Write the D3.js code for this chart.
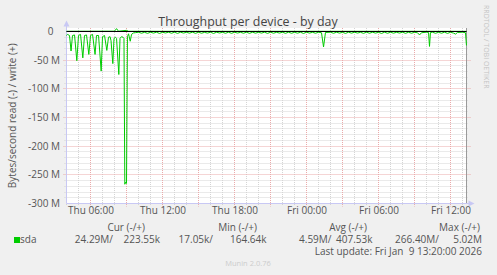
<!DOCTYPE html>
<html>
<head>
<meta charset="utf-8">
<script src="https://cdn.jsdelivr.net/npm/d3@7"></script>
<style>
  body { margin: 0; background: #f0f0f0; }
  text { font-family: "Open Sans", sans-serif; fill: #555; }
</style>
</head>
<body>
<div id="chart"></div>
<script>
// hours counted from Thu 00:00, values in MB/s (read is drawn below zero)
var readHours = [
  4.00, 4.08, 4.25, 4.38, 4.50, 4.67, 4.86, 5.00, 5.17, 5.36, 5.50, 5.67, 5.86,
  6.00, 6.17, 6.38, 6.50, 6.67, 6.89, 7.00, 7.17, 7.36, 7.50, 7.63, 7.71, 7.86, 7.96,
  8.08, 8.17, 8.36, 8.46, 8.58, 8.71, 8.79, 8.86, 8.92, 9.00, 9.08, 9.17, 9.31, 9.42, 9.58,
  9.75,
  10.00, 10.25, 10.50, 10.75, 11.00, 11.25, 11.50, 11.75, 12.00, 12.25, 12.50, 12.75,
  13.00, 13.25, 13.50, 13.75, 14.00, 14.25, 14.50, 14.75, 15.00, 15.25, 15.50, 15.75,
  16.00, 16.25, 16.50, 16.75, 17.00, 17.25, 17.50, 17.75, 18.00, 18.25, 18.50, 18.75,
  19.00, 19.25, 19.50, 19.75, 20.00, 20.25, 20.50, 20.75, 21.00, 21.25, 21.50, 21.75,
  22.00, 22.25, 22.50, 22.75, 23.00, 23.25, 23.50, 23.75, 24.00, 24.25, 24.50, 24.75,
  25.00, 25.25, 25.42, 25.58, 26.00, 26.25, 26.50, 26.75, 27.00, 27.25, 27.50, 27.75,
  28.00, 28.25, 28.50, 28.75, 29.00, 29.25, 29.50, 29.75, 30.00, 30.25, 30.50, 30.75,
  31.00, 31.25, 31.50, 31.75, 32.00, 32.25, 32.50, 32.75, 33.00, 33.25, 33.42, 33.58,
  34.00, 34.17, 34.25, 34.33, 34.50, 34.75, 35.00, 35.25, 35.50, 35.75,
  36.00, 36.25, 36.42, 36.58, 37.00, 37.25, 37.33
];
var readValues = [
  7, 5, 7, 34, 7, 6, 51, 7, 5, 46, 7, 6, 40,
  7, 5, 40, 7, 7, 69, 9, 7, 33, 10, 9, 16, 56, 12,
  10, 12, 75, 12, 9, 10, 12, 266.4, 263, 265, 9, 4, 17, 5, 2.5,
  2.0,
  1.3, 3.0, 1.4, 3.2, 1.3, 2.8, 1.2, 3.4, 1.4, 2.6, 1.2, 3.1,
  1.2, 3.3, 1.3, 2.7, 1.4, 2.9, 1.2, 3.2, 1.3, 3.0, 1.5, 2.8,
  1.2, 3.4, 1.3, 2.6, 1.4, 3.1, 1.2, 3.2, 1.3, 2.7, 1.4, 3.0,
  1.2, 3.2, 1.3, 2.9, 1.4, 2.8, 1.2, 3.3, 1.2, 3.0, 1.4, 2.7,
  1.3, 3.2, 1.2, 3.1, 1.4, 2.9, 1.3, 3.4, 1.2, 2.8, 1.4, 3.0,
  1.3, 2.2, 27.0, 1.7, 1.2, 3.1, 1.3, 2.8, 1.4, 3.3, 1.2, 2.9,
  1.3, 2.7, 1.4, 3.2, 1.2, 3.0, 1.3, 2.8, 1.4, 3.4, 1.2, 3.1,
  1.3, 2.9, 1.4, 2.7, 1.2, 3.2, 1.3, 3.0, 1.4, 2.2, 6.0, 2.2,
  1.2, 1.7, 26.0, 1.7, 1.3, 3.1, 1.4, 3.0, 1.2, 3.3,
  1.3, 2.8, 4.5, 1.7, 1.2, 2.2, 24.29
];
var writeHours = [4.00, 6.00, 8.00, 8.17, 8.33, 9.00, 9.17, 12.00, 18.00, 24.00, 30.00, 36.00, 37.33];
var writeValues = [0.4, 0.5, 0.6, 5.02, 0.5, 2.0, 0.4, 0.3, 0.3, 0.3, 0.3, 0.3, 0.22];

var yTicks = [0, -50, -100, -150, -200, -250, -300];
var legendHeads = ["Cur (-/+)", "Min (-/+)", "Avg (-/+)", "Max (-/+)"];
var legendRead = ["24.29M/", "17.05k/", "4.59M/", "266.40M/"];
var legendWrite = ["223.55k", "164.64k", "407.53k", "5.02M"];

var width = 497, height = 275;
var plot = {left: 66.5, right: 466.5, top: 28, bottom: 203.5};
var base = new Date(2026, 0, 8);
var green = "#00cc00";

function hourDate(h) { return new Date(base.getTime() + h * 3600e3); }

var x = d3.scaleTime()
  .domain([hourDate(4), hourDate(37 + 1 / 3)])
  .range([plot.left, plot.right]);
var y = d3.scaleLinear()
  .domain([-300e6, 0])
  .range([plot.bottom, 31.5]);

function px(v) { return Math.round(v - 0.5) + 0.5; }

var svg = d3.select("#chart").append("svg")
  .attr("width", width)
  .attr("height", height);

svg.append("rect")
  .attr("width", width).attr("height", height)
  .attr("fill", "#f0f0f0");

svg.append("rect")
  .attr("x", plot.left).attr("y", plot.top)
  .attr("width", plot.right - plot.left)
  .attr("height", plot.bottom - plot.top)
  .attr("fill", "#ffffff");

// grid: minor every hour / 10M, major every 3 hours / 50M
var grid = svg.append("g");
var minorY = d3.range(-300e6, 1, 10e6).filter(function(v) { return v % 50e6 !== 0; });
grid.selectAll("line.hminor").data(minorY).enter().append("line")
  .attr("x1", plot.left - 2).attr("x2", plot.right + 2)
  .attr("y1", function(d) { return px(y(d)); })
  .attr("y2", function(d) { return px(y(d)); })
  .attr("stroke", "#d4d4d4").attr("stroke-dasharray", "1,1");

var minorX = x.ticks(d3.timeHour.every(1)).filter(function(d) { return d.getHours() % 3 !== 0; });
grid.selectAll("line.vminor").data(minorX).enter().append("line")
  .attr("x1", function(d) { return px(x(d)); })
  .attr("x2", function(d) { return px(x(d)); })
  .attr("y1", plot.top).attr("y2", plot.bottom + 2)
  .attr("stroke", "#d4d4d4").attr("stroke-dasharray", "1,1");

grid.selectAll("line.hmajor").data(yTicks.slice(1, -1)).enter().append("line")
  .attr("x1", plot.left - 3).attr("x2", plot.right + 4)
  .attr("y1", function(d) { return px(y(d * 1e6)); })
  .attr("y2", function(d) { return px(y(d * 1e6)); })
  .attr("stroke", "#eaaaaa").attr("stroke-dasharray", "1,1");

grid.selectAll("line.vmajor").data(x.ticks(d3.timeHour.every(3))).enter().append("line")
  .attr("x1", function(d) { return px(x(d)); })
  .attr("x2", function(d) { return px(x(d)); })
  .attr("y1", plot.top).attr("y2", plot.bottom + 3)
  .attr("stroke", "#eaaaaa").attr("stroke-dasharray", "1,1");

// right frame
svg.append("line")
  .attr("x1", plot.right).attr("x2", plot.right)
  .attr("y1", plot.top).attr("y2", plot.bottom)
  .attr("stroke", "#9a9a9a");

// axes lines with arrows
var axisColor = "#c8c8f4";
svg.append("line")
  .attr("x1", plot.left).attr("x2", plot.left)
  .attr("y1", plot.bottom).attr("y2", 24)
  .attr("stroke", axisColor);
svg.append("path")
  .attr("d", "M63.5,26.5L69.5,26.5L66.5,20.5Z")
  .attr("fill", axisColor);
svg.append("line")
  .attr("x1", plot.left).attr("x2", 470)
  .attr("y1", plot.bottom).attr("y2", plot.bottom)
  .attr("stroke", axisColor);
svg.append("path")
  .attr("d", "M468.5,200.5L468.5,206.5L474.5,203.5Z")
  .attr("fill", axisColor);

// data lines
var line = d3.line()
  .x(function(d) { return x(hourDate(d[0])); })
  .y(function(d) { return y(d[1]); });

var writeData = writeHours.map(function(h, i) { return [h, writeValues[i] * 1e6]; });
var readData = readHours.map(function(h, i) { return [h, -readValues[i] * 1e6]; });

svg.append("path")
  .datum(writeData)
  .attr("d", line)
  .attr("fill", "none")
  .attr("stroke", green)
  .attr("stroke-width", 1);

svg.append("path")
  .datum(readData)
  .attr("d", line)
  .attr("fill", "none")
  .attr("stroke", green)
  .attr("stroke-width", 1);

// zero rule
svg.append("line")
  .attr("x1", plot.left).attr("x2", plot.right)
  .attr("y1", y(0)).attr("y2", y(0))
  .attr("stroke", "#000");

// y tick labels
svg.append("g").selectAll("text").data(yTicks).enter().append("text")
  .attr("x", function(d) { return d === 0 ? 53.5 : 60; })
  .attr("y", function(d) { return y(d * 1e6) + 3.5; })
  .attr("text-anchor", "end")
  .style("font-size", "10px")
  .text(function(d) { return d === 0 ? "0" : d + " M"; });

// x tick labels
var xAxis = d3.axisBottom(x)
  .ticks(d3.timeHour.every(6))
  .tickFormat(d3.timeFormat("%a %H:%M"))
  .tickSize(0)
  .tickPadding(0);
var gx = svg.append("g")
  .attr("transform", "translate(0," + 207 + ")")
  .call(xAxis);
gx.select(".domain").remove();
gx.selectAll("text")
  .attr("dy", "0.71em")
  .attr("font-family", null)
  .style("font-size", "10px")
  .attr("fill", null);

// titles
svg.append("text")
  .attr("x", 248).attr("y", 25.5)
  .attr("text-anchor", "middle")
  .style("font-size", "12.4px")
  .style("fill", "#444")
  .text("Throughput per device - by day");

svg.append("text")
  .attr("transform", "translate(16," + ((plot.top + plot.bottom) / 2) + ") rotate(-90)")
  .attr("text-anchor", "middle")
  .style("font-size", "10px")
  .text("Bytes/second read (-) / write (+)");

svg.append("text")
  .attr("transform", "translate(484,5) rotate(90)")
  .style("font-size", "7px")
  .style("fill", "#c4c4c4")
  .text("RRDTOOL / TOBI OETIKER");

// legend
var headEnds = [145, 257, 367, 480];
var readEnds = [113, 213, 331.5, 439];
var writeEnds = [160, 266.5, 372.5, 482];

svg.append("g").selectAll("text").data(legendHeads).enter().append("text")
  .attr("x", function(d, i) { return headEnds[i]; })
  .attr("y", 231)
  .attr("text-anchor", "end")
  .style("font-size", "10px")
  .text(function(d) { return d; });

svg.append("rect")
  .attr("x", 14).attr("y", 237)
  .attr("width", 6).attr("height", 6)
  .attr("fill", green);
svg.append("text")
  .attr("x", 20).attr("y", 243)
  .style("font-size", "10px")
  .text("sda");

svg.append("g").selectAll("text").data(legendRead).enter().append("text")
  .attr("x", function(d, i) { return readEnds[i]; })
  .attr("y", 243)
  .attr("text-anchor", "end")
  .style("font-size", "10px")
  .text(function(d) { return d; });

svg.append("g").selectAll("text").data(legendWrite).enter().append("text")
  .attr("x", function(d, i) { return writeEnds[i]; })
  .attr("y", 243)
  .attr("text-anchor", "end")
  .style("font-size", "10px")
  .text(function(d) { return d; });

svg.append("text")
  .attr("x", 482).attr("y", 254.5)
  .attr("text-anchor", "end")
  .style("font-size", "10px")
  .style("white-space", "pre")
  .text("Last update: Fri Jan  9 13:20:00 2026");

svg.append("text")
  .attr("x", 248).attr("y", 265.5)
  .attr("text-anchor", "middle")
  .style("font-size", "7.5px")
  .style("fill", "#cccccc")
  .text("Munin 2.0.76");
</script>
</body>
</html>
